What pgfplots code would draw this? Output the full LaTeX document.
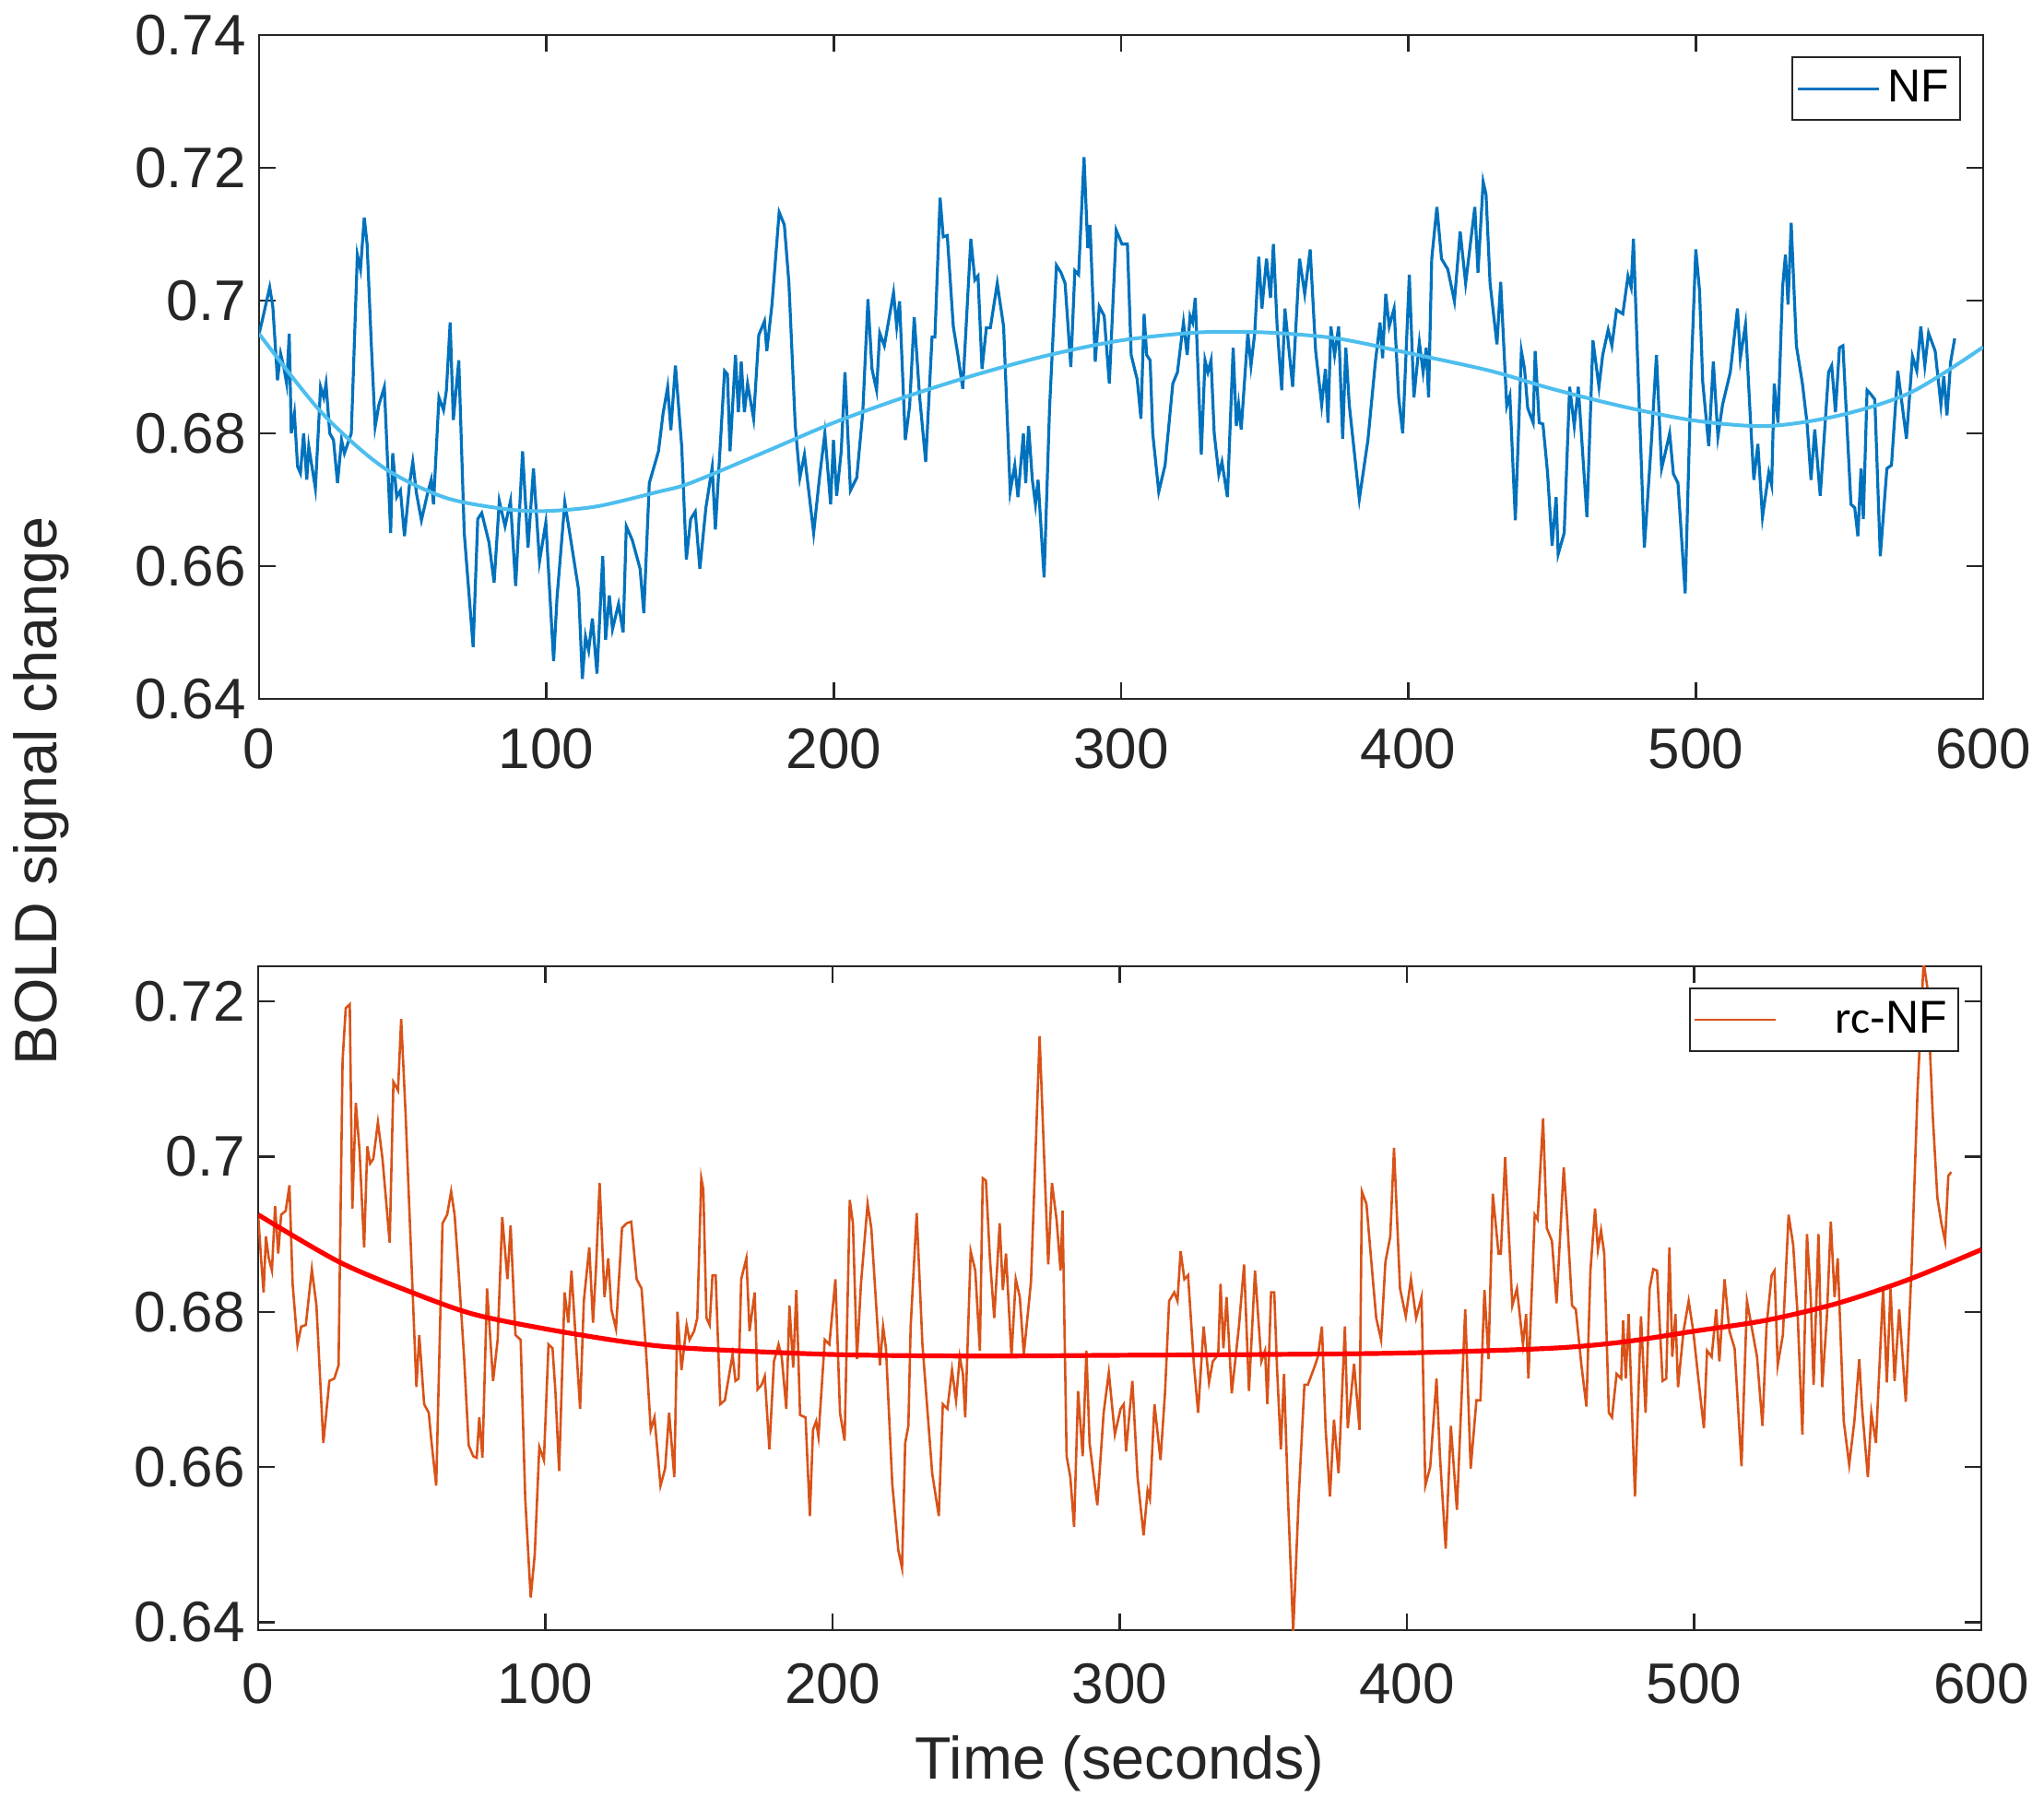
\documentclass[border=0pt]{standalone}
\usepackage{fontspec}
\setmainfont{Liberation Sans}
\newfontfamily\carlito{Carlito}
\usepackage{pgfplots}
\pgfplotsset{compat=1.18}
\definecolor{nfblue}{HTML}{0072BD}
\definecolor{nfcyan}{HTML}{4DBEEE}
\definecolor{rcorange}{HTML}{D95319}
\definecolor{axiscol}{HTML}{262626}
\pgfplotsset{
  myaxis/.style={
    scale only axis, width=467.5pt, height=180pt,
    xmin=0, xmax=600, xtick={0,100,...,600},
    scaled x ticks=false, scaled y ticks=false,
    /pgf/number format/assume math mode=true,
    tick label style={font=\fontsize{15.5}{15.5}\selectfont, text=axiscol},
    tick align=inside, major tick length=4.5pt,
    tick style={draw=axiscol, line width=0.6pt},
    axis line style={draw=axiscol, line width=0.6pt},
    legend style={at={(1,1)}, anchor=north east, xshift=-6pt, yshift=-5.75pt,
      draw=axiscol, line width=0.5pt, font=\fontsize{12.5}{12.5}\selectfont,
      text=black, inner xsep=1pt, inner ysep=1.5pt},
    legend image code/.code={\draw[#1] (0pt,0pt) -- (22pt,0pt);},
  }
}
\begin{document}
\begin{tikzpicture}
\path[use as bounding box] (0,0) rectangle (554.25pt,490.25pt);
\begin{axis}[myaxis, at={(70.25pt,300.75pt)}, anchor=south west,
  xticklabel style={yshift=-4.4pt},
  ymin=0.64, ymax=0.74, ytick={0.64,0.66,0.68,0.7,0.72,0.74}]
\addplot[nfblue, line width=0.8pt] coordinates {
(0,0.695)(1.1,0.697)(3.7,0.702)(4.8,0.699)(6.4,0.688)(7.5,0.692)(8.6,0.690)(9.6,0.6875)
(10.5,0.695)(11.2,0.680)(12.3,0.683)(13.4,0.675)(14.4,0.674)(15.5,0.680)(16.6,0.673)(17.3,0.678)
(19.6,0.6717)(21.4,0.687)(22.5,0.6854)(23.3,0.6875)(24.6,0.680)(25.9,0.679)(27.3,0.6725)(28.7,0.679)
(29.7,0.677)(32.1,0.680)(34.2,0.7069)(35.3,0.7047)(36.6,0.7125)(37.6,0.7085)(39.0,0.694)(40.4,0.681)
(41.7,0.6843)(43.6,0.687)(45.8,0.665)(46.5,0.677)(47.9,0.6704)(49.2,0.6714)(50.6,0.6645)(52.4,0.6725)
(53.5,0.6757)(54.8,0.6709)(56.5,0.6669)(58.6,0.6709)(59.9,0.673)(60.7,0.6693)(62.6,0.6854)(64.2,0.6835)
(65.2,0.6865)(66.5,0.6967)(67.6,0.682)(69.5,0.691)(71.4,0.665)(74.5,0.6478)(76.1,0.6671)(77.5,0.6680)
(80.0,0.6636)(81.8,0.6575)(83.6,0.6698)(85.6,0.666)(87.5,0.6698)(89.3,0.657)(91.7,0.6773)(93.6,0.6628)
(95.5,0.6747)(97.6,0.6607)(99.8,0.6666)(102.5,0.6457)(103.7,0.6553)(106.4,0.6696)(108.9,0.6628)(111.2,0.6564)
(112.5,0.643)(113.6,0.6494)(114.7,0.6473)(116.0,0.6521)(117.6,0.6438)(119.6,0.6615)(120.6,0.6489)(121.9,0.6556)
(123.0,0.6505)(125.1,0.6543)(126.7,0.650)(127.8,0.666)(129.9,0.6639)(132.6,0.6596)(133.9,0.6529)(135.8,0.6725)
(139.0,0.6773)(140.6,0.683)(142.2,0.687)(143.3,0.6805)(144.9,0.6902)(147.1,0.6779)(148.7,0.661)(150.2,0.6671)
(151.8,0.6682)(153.4,0.6596)(155.5,0.6688)(157.7,0.6749)(158.8,0.6655)(162.0,0.6894)(163.0,0.6889)(163.9,0.6773)
(165.8,0.6918)(166.8,0.6832)(167.8,0.6908)(168.9,0.6832)(170.0,0.6875)(172.1,0.6822)(173.9,0.6948)(175.9,0.6969)
(176.7,0.6924)(178.5,0.6994)(181.0,0.7133)(182.8,0.7114)(184.4,0.7026)(186.6,0.6811)(188.2,0.6733)(189.8,0.6768)
(193.0,0.665)(195.1,0.6736)(196.9,0.680)(198.9,0.6693)(199.9,0.6790)(201.0,0.6706)(202.6,0.6773)(203.9,0.6892)
(205.8,0.6714)(208.0,0.6733)(210.1,0.6832)(211.9,0.7002)(213.3,0.6897)(214.9,0.6865)(216.0,0.6951)(217.6,0.6932)
(220.8,0.7012)(221.9,0.6961)(222.9,0.6999)(224.9,0.6790)(226.4,0.6841)(228.0,0.6975)(229.9,0.6854)(232.0,0.6757)
(234.2,0.6945)(235.2,0.6945)(237.0,0.7155)(238.1,0.7096)(239.5,0.7098)(241.6,0.6961)(243.2,0.6918)(244.9,0.6867)
(247.7,0.7093)(249.1,0.7031)(250.2,0.7037)(251.6,0.6897)(253.1,0.6959)(254.5,0.6959)(256.9,0.7026)(259.1,0.6961)
(261.4,0.6712)(263.0,0.6752)(264.1,0.6704)(266.0,0.6800)(266.8,0.6725)(267.8,0.6811)(269.1,0.6730)(270.2,0.6693)
(271.1,0.6730)(273.2,0.6583)(275.1,0.6838)(277.5,0.7053)(279.1,0.7042)(280.5,0.7026)(282.5,0.6900)(283.9,0.7045)
(285.2,0.7039)(287.1,0.7216)(288.4,0.7079)(289.2,0.7114)(291.0,0.6908)(292.4,0.6991)(294.1,0.6977)(295.9,0.6875)
(298.3,0.7106)(300.3,0.7085)(302.2,0.7085)(303.5,0.6918)(305.6,0.6881)(306.9,0.6822)(308.0,0.6980)(308.9,0.6918)
(310.1,0.6910)(311.0,0.6800)(313.1,0.6712)(315.3,0.6752)(318.0,0.6875)(319.6,0.6892)(321.7,0.6967)(323.0,0.6918)
(324.0,0.6977)(324.9,0.6967)(325.8,0.7004)(327.9,0.6768)(329.2,0.6910)(330.2,0.6892)(331.3,0.6910)(332.4,0.6800)
(334.0,0.6738)(335.1,0.6757)(337.0,0.6704)(339.0,0.6929)(340.1,0.6811)(340.9,0.6843)(341.8,0.6806)(344.1,0.6951)
(345.2,0.6902)(346.5,0.6951)(347.9,0.7066)(349.0,0.6988)(350.6,0.7063)(352.0,0.7004)(353.0,0.7085)(354.3,0.6961)
(355.9,0.6865)(357.0,0.6988)(359.7,0.6870)(362.1,0.7063)(363.9,0.7010)(365.8,0.7077)(367.7,0.6924)(369.8,0.6843)
(371.1,0.6897)(372.0,0.6816)(373.0,0.6961)(374.3,0.6918)(375.7,0.6961)(377.1,0.6792)(378.2,0.6929)(379.4,0.6843)
(382.9,0.6701)(385.9,0.6790)(388.5,0.6908)(390.1,0.6967)(391.0,0.6913)(392.1,0.7010)(393.3,0.6961)(395.0,0.6988)
(396.6,0.6854)(398.0,0.6800)(400.3,0.7039)(401.9,0.6854)(403.8,0.6937)(405.1,0.6892)(406.2,0.6929)(407.0,0.6854)
(408.1,0.7063)(409.9,0.7141)(411.5,0.7063)(413.7,0.7047)(416.0,0.6999)(418.0,0.7104)(419.9,0.7026)(423.1,0.7141)
(424.2,0.7042)(426.0,0.7179)(427.0,0.7160)(428.4,0.7026)(430.8,0.6934)(432.1,0.7028)(434.2,0.6841)(435.3,0.6857)
(437.2,0.6669)(439.3,0.6924)(440.4,0.6897)(441.5,0.6838)(443.4,0.6816)(444.1,0.6924)(445.5,0.6816)(446.8,0.6814)
(448.4,0.6741)(450.0,0.6631)(451.4,0.6704)(452.1,0.6618)(454.2,0.6650)(456.1,0.6870)(457.7,0.6811)(459.1,0.6870)
(462.1,0.6674)(464.2,0.6940)(466.3,0.6870)(467.6,0.6918)(469.5,0.6956)(470.8,0.6932)(472.4,0.6986)(474.6,0.6980)
(476.4,0.7037)(477.5,0.7020)(478.3,0.7093)(479.9,0.6892)(482.1,0.6628)(484.5,0.6784)(486.3,0.6918)(488.1,0.6747)
(489.5,0.6773)(490.9,0.6800)(492.2,0.6739)(493.8,0.6725)(496.3,0.6559)(498.4,0.6892)(500.0,0.7077)(501.3,0.7015)
(502.4,0.6878)(504.5,0.6781)(506.1,0.6908)(507.7,0.6795)(509.3,0.6843)(512.0,0.6892)(514.5,0.6988)(515.5,0.6913)
(517.3,0.6964)(519.0,0.6822)(520.2,0.6730)(521.6,0.6784)(523.2,0.6674)(525.4,0.6741)(526.4,0.6722)(527.3,0.6875)
(528.6,0.6816)(530.2,0.7020)(531.2,0.7069)(532.1,0.6994)(533.2,0.7117)(535.0,0.6932)(537.1,0.6875)(538.7,0.6816)
(540.1,0.6730)(541.4,0.6806)(543.3,0.6706)(546.2,0.6892)(547.3,0.6902)(548.6,0.6832)(550.0,0.6929)(551.2,0.6932)
(554.0,0.6693)(555.3,0.6688)(556.4,0.6645)(557.5,0.6747)(558.3,0.6671)(559.6,0.6865)(560.9,0.6859)(562.3,0.6851)
(564.2,0.6615)(566.5,0.6747)(568.1,0.6752)(570.3,0.6894)(573.3,0.6792)(575.4,0.6916)(576.9,0.6894)(578.3,0.6961)
(579.7,0.6902)(581.0,0.6951)(583.3,0.6924)(585.3,0.6843)(586.3,0.6886)(587.4,0.6827)(588.7,0.6908)(590.1,0.6943)
};
\addlegendentry{NF}
\addplot[nfcyan, line width=1pt, smooth, forget plot] coordinates {
(0,0.6950)(21.4,0.6833)(42.8,0.6750)(64.2,0.6704)(85.6,0.6686)(100,0.6683)(117.6,0.6690)(139,0.6712)
(150,0.6725)(175,0.6770)(200,0.6816)(225,0.6855)(250,0.6889)(275,0.6918)(300,0.6940)(327,0.6952)
(350,0.6952)(375,0.6943)(400,0.6921)(428.6,0.6894)(450,0.6867)(475,0.6840)(500,0.6819)(525,0.6811)
(550,0.6827)(575,0.6862)(600,0.6930)
};
\end{axis}
\begin{axis}[myaxis, at={(70pt,48.25pt)}, anchor=south west, width=467.25pt,
  xticklabel style={yshift=-5.5pt},
  ymin=0.639, ymax=0.7245, ytick={0.64,0.66,0.68,0.7,0.72},
  xlabel={Time (seconds)},
  xlabel style={font=\fontsize{16.2}{16.2}\selectfont, text=axiscol,
    at={(axis description cs:0.5,0)}, anchor=center, yshift=-36.3pt}]
\addplot[rcorange, line width=0.65pt] coordinates {
(0.0,0.6925)(1.1,0.6864)(1.9,0.6825)(2.7,0.6897)(3.7,0.6869)(4.8,0.6853)(5.9,0.6936)(7.0,0.6875)
(8.0,0.6925)(9.6,0.6930)(10.9,0.6963)(12.0,0.6836)(13.7,0.6758)(15.0,0.6781)(16.6,0.6783)(18.7,0.6855)
(20.3,0.6808)(22.7,0.6631)(24.8,0.6711)(26.5,0.6714)(28.0,0.6731)(29.4,0.7124)(30.5,0.7191)(31.9,0.7196)
(32.8,0.6933)(34.0,0.7069)(35.3,0.7008)(36.9,0.6883)(38.0,0.7013)(39.0,0.6991)(40.1,0.6997)(41.7,0.7044)
(43.3,0.6997)(45.8,0.6889)(47.1,0.7096)(48.7,0.7085)(49.8,0.7177)(51.3,0.7058)(53.5,0.6853)(55.1,0.6703)
(56.1,0.6770)(57.8,0.6681)(59.4,0.6670)(60.4,0.6631)(62.0,0.6576)(64.2,0.6914)(65.8,0.6925)(67.2,0.6955)
(68.4,0.6925)(69.7,0.6858)(71.7,0.6742)(73.3,0.6628)(74.9,0.6614)(76.1,0.6612)(77.0,0.6664)(78.1,0.6612)
(79.7,0.6830)(81.8,0.6711)(83.4,0.6764)(85.0,0.6922)(86.8,0.6842)(87.9,0.6911)(89.6,0.6770)(91.4,0.6764)
(93.0,0.6559)(94.9,0.6432)(96.3,0.6487)(97.9,0.6626)(99.5,0.6609)(101.1,0.6758)(102.5,0.6753)(103.5,0.6698)
(104.8,0.6595)(106.7,0.6825)(108.0,0.6786)(109.1,0.6853)(110.7,0.6758)(112.1,0.6675)(113.4,0.6814)(115.3,0.6883)
(116.6,0.6786)(117.6,0.6853)(118.9,0.6966)(120.6,0.6819)(121.9,0.6869)(123.0,0.6803)(124.6,0.6778)(126.7,0.6908)
(128.3,0.6914)(129.9,0.6916)(131.8,0.6842)(133.5,0.6830)(135.0,0.6753)(136.7,0.6648)(138.0,0.6664)(140.1,0.6576)
(141.7,0.6598)(143.1,0.6670)(144.9,0.6587)(146.0,0.6800)(147.4,0.6725)(149.2,0.6783)(150.2,0.6764)(151.8,0.6775)
(152.9,0.6792)(154.3,0.6972)(155.0,0.6958)(156.1,0.6792)(157.2,0.6783)(158.2,0.6847)(159.3,0.6847)(160.9,0.6681)
(162.5,0.6686)(165.2,0.6745)(166.2,0.6711)(167.3,0.6714)(168.2,0.6842)(170.0,0.6869)(171.1,0.6775)(172.9,0.6825)
(173.9,0.6700)(175.3,0.6706)(176.4,0.6717)(178.0,0.6623)(179.6,0.6736)(181.2,0.6758)(182.3,0.6742)(183.9,0.6675)
(185.0,0.6808)(186.3,0.6728)(187.4,0.6828)(188.7,0.6667)(190.6,0.6664)(192.1,0.6537)(193.2,0.6648)(194.3,0.6659)
(195.1,0.6639)(197.3,0.6764)(198.9,0.6758)(201.0,0.6842)(202.6,0.6670)(204.2,0.6634)(206.0,0.6944)(207.1,0.6914)
(208.5,0.6739)(209.9,0.6836)(212.2,0.6939)(213.5,0.6908)(215.2,0.6808)(216.5,0.6731)(217.6,0.6781)(218.6,0.6753)
(220.8,0.6578)(222.9,0.6493)(224.2,0.6470)(225.3,0.6631)(226.4,0.6653)(227.2,0.6781)(229.3,0.6927)(231.3,0.6758)
(234.7,0.6592)(237.0,0.6537)(238.4,0.6681)(240.0,0.6675)(241.6,0.6725)(243.0,0.6686)(244.3,0.6742)(245.4,0.6720)
(246.2,0.6664)(248.1,0.6878)(249.7,0.6853)(251.3,0.6750)(252.3,0.6972)(253.4,0.6969)(254.8,0.6869)(256.3,0.6792)
(258.2,0.6914)(259.3,0.6828)(260.4,0.6875)(262.3,0.6742)(263.8,0.6842)(265.2,0.6819)(266.6,0.6745)(269.1,0.6839)
(270.5,0.6986)(272.1,0.7155)(273.7,0.6997)(275.1,0.6861)(276.4,0.6966)(278.0,0.6919)(279.4,0.6853)(280.1,0.6930)
(281.5,0.6614)(282.8,0.6587)(284.1,0.6523)(285.5,0.6698)(287.1,0.6614)(288.4,0.6750)(289.5,0.6631)(290.8,0.6592)
(292.2,0.6551)(294.4,0.6670)(296.2,0.6722)(298.3,0.6642)(300.3,0.6675)(301.4,0.6681)(302.2,0.6620)(304.4,0.6711)
(306.2,0.6587)(308.3,0.6512)(309.7,0.6570)(310.5,0.6559)(312.1,0.6681)(314.2,0.6609)(315.8,0.6698)(317.2,0.6814)
(319.0,0.6825)(320.1,0.6814)(321.2,0.6878)(322.5,0.6842)(323.8,0.6847)(325.8,0.6733)(327.3,0.6670)(329.2,0.6781)
(331.1,0.6709)(332.4,0.6736)(334.3,0.6745)(335.1,0.6836)(336.1,0.6753)(337.2,0.6819)(339.0,0.6695)(341.5,0.6781)
(343.3,0.6861)(345.0,0.6698)(347.1,0.6853)(349.3,0.6736)(350.6,0.6750)(351.4,0.6681)(352.7,0.6825)(353.8,0.6825)
(354.8,0.6725)(356.1,0.6623)(357.2,0.6720)(358.6,0.6559)(360.4,0.6388)(362.3,0.6559)(364.3,0.6706)(365.5,0.6706)
(367.7,0.6728)(369.0,0.6742)(370.4,0.6781)(371.7,0.6648)(373.2,0.6562)(374.6,0.6661)(376.2,0.6592)(378.4,0.6781)
(379.4,0.6650)(381.6,0.6733)(383.5,0.6648)(384.3,0.6955)(385.9,0.6939)(387.5,0.6869)(389.3,0.6792)(391.0,0.6764)
(392.5,0.6864)(394.2,0.6897)(395.5,0.7011)(397.6,0.6830)(399.6,0.6794)(401.4,0.6842)(403.2,0.6792)(405.1,0.6819)
(406.4,0.6576)(408.1,0.6600)(410.3,0.6714)(411.5,0.6614)(413.5,0.6495)(415.3,0.6653)(417.4,0.6545)(420.3,0.6803)
(422.2,0.6598)(424.2,0.6686)(425.6,0.6686)(427.0,0.6828)(428.4,0.6739)(429.9,0.6952)(431.9,0.6875)(432.7,0.6875)
(434.2,0.6999)(436.7,0.6808)(438.3,0.6830)(440.4,0.6758)(441.5,0.6797)(442.3,0.6714)(444.5,0.6925)(445.5,0.6919)
(447.4,0.7049)(448.7,0.6908)(450.5,0.6891)(452.1,0.6811)(454.6,0.6986)(455.8,0.6919)(457.5,0.6808)(458.8,0.6803)
(460.7,0.6733)(462.5,0.6678)(463.9,0.6853)(465.5,0.6933)(466.5,0.6880)(467.6,0.6905)(468.7,0.6875)(470.3,0.6670)
(471.4,0.6664)(473.0,0.6720)(474.6,0.6714)(475.3,0.6789)(476.2,0.6714)(477.2,0.6797)(479.4,0.6562)(481.5,0.6794)
(483.1,0.6670)(484.5,0.6830)(485.8,0.6855)(487.1,0.6853)(489.0,0.6711)(490.3,0.6714)(491.4,0.6883)(492.4,0.6742)
(493.5,0.6797)(494.4,0.6703)(496.3,0.6775)(498.1,0.6814)(499.7,0.6775)(501.3,0.6720)(503.4,0.6650)(504.5,0.6750)
(506.1,0.6742)(507.7,0.6803)(508.8,0.6736)(510.6,0.6842)(512.3,0.6775)(514.1,0.6753)(516.5,0.6601)(518.4,0.6814)
(520.0,0.6781)(521.9,0.6742)(523.8,0.6653)(525.2,0.6781)(527.0,0.6847)(528.0,0.6853)(529.1,0.6731)(530.9,0.6770)
(532.9,0.6925)(534.5,0.6886)(536.1,0.6792)(537.7,0.6642)(539.3,0.6900)(540.6,0.6819)(541.6,0.6706)(543.3,0.6900)
(544.6,0.6703)(546.2,0.6792)(547.6,0.6916)(548.9,0.6819)(550.0,0.6869)(552.1,0.6659)(554.0,0.6603)(555.8,0.6659)
(557.5,0.6739)(558.5,0.6675)(560.5,0.6587)(561.7,0.6670)(563.3,0.6631)(565.8,0.6830)(567.1,0.6709)(568.4,0.6830)
(569.8,0.6711)(571.4,0.6803)(573.7,0.6684)(575.8,0.6864)(577.8,0.7085)(579.9,0.7250)(581.2,0.7218)(583.1,0.7052)
(584.7,0.6947)(586.1,0.6914)(587.4,0.6891)(588.5,0.6975)(589.5,0.6980)
};
\addlegendentry{\hspace{13.8pt}{\carlito rc}-NF}
\addplot[red, line width=1.3pt, smooth, forget plot] coordinates {
(0,0.6925)(28.3,0.6864)(53.5,0.6825)(74.9,0.6797)(100,0.6778)(128.3,0.6761)(150,0.6753)(200,0.6745)
(250,0.6743)(300,0.6744)(350,0.6745)(400,0.6747)(450,0.6753)(475,0.6761)(500,0.6775)(525,0.6789)
(550,0.6811)(575,0.6842)(600,0.6880)
};
\end{axis}
\node[rotate=90, font=\fontsize{16.2}{16.2}\selectfont, text=axiscol] at (11.25pt,275.75pt) {BOLD signal change};
\end{tikzpicture}
\end{document}
